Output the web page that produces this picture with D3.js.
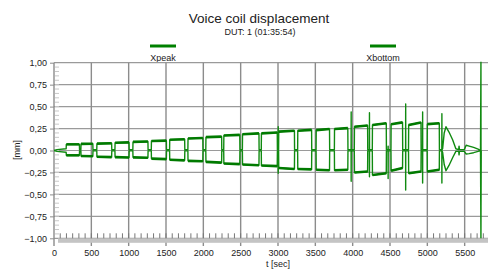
<!DOCTYPE html>
<html>
<head>
<meta charset="utf-8">
<script src="https://cdn.jsdelivr.net/npm/d3@7"></script>
<style>
  body { margin: 0; background: #fff; }
  text { font-family: "Liberation Sans", Arial, sans-serif; fill: #222; }
</style>
</head>
<body>
<svg id="chart" width="488" height="271"></svg>
<script>
// pulses (t in sec, displacement in mm)
var pulseStart = [165, 362, 575, 818, 1058, 1305, 1550, 1795, 2035, 2275, 2525, 2778, 3010, 3265, 3512, 3757, 4024, 4265, 4515, 4750, 5000];
var pulseEnd   = [340, 520, 772, 1005, 1258, 1505, 1750, 1993, 2245, 2488, 2745, 2990, 3220, 3450, 3690, 3935, 4200, 4450, 4668, 4915, 5160];
var peakStart  = [0.07, 0.075, 0.078, 0.088, 0.098, 0.108, 0.122, 0.137, 0.152, 0.170, 0.185, 0.195, 0.215, 0.225, 0.232, 0.245, 0.27, 0.29, 0.30, 0.29, 0.30];
var peakEnd    = [0.07, 0.077, 0.082, 0.092, 0.102, 0.112, 0.128, 0.142, 0.158, 0.178, 0.195, 0.205, 0.225, 0.235, 0.245, 0.255, 0.285, 0.31, 0.32, 0.32, 0.31];
var bottomStart = [-0.055, -0.062, -0.072, -0.075, -0.078, -0.092, -0.105, -0.118, -0.13, -0.148, -0.16, -0.17, -0.20, -0.21, -0.22, -0.225, -0.25, -0.28, -0.23, -0.26, -0.24];
var bottomEnd   = [-0.055, -0.066, -0.076, -0.08, -0.082, -0.098, -0.112, -0.122, -0.138, -0.155, -0.168, -0.178, -0.21, -0.215, -0.225, -0.22, -0.24, -0.26, -0.2, -0.24, -0.22];

var leadT      = [0, 40, 160];
var leadPeak   = [0, 0.01, 0.02];
var leadBottom = [0, -0.01, -0.02];

var spikeT      = [3003, 3980, 4225, 4475, 4710, 4937, 5195];
var spikePeak   = [0.27, 0.44, 0.43, 0.05, 0.53, 0.44, 0.42];
var spikeBottom = [-0.26, -0.35, -0.30, -0.32, -0.45, -0.37, -0.37];

var tailT      = [5205, 5226, 5250, 5290, 5340, 5382, 5420, 5425, 5430, 5495, 5520, 5560, 5620, 5680, 5712];
var tailPeak   = [0.02, 0.20, 0.27, 0.21, 0.12, 0.02, 0.01, 0.05, 0.01, 0.01, 0.06, 0.05, 0.035, 0.015, 0.0];
var tailBottom = [-0.02, -0.16, -0.23, -0.17, -0.08, -0.01, -0.01, -0.05, -0.01, -0.01, -0.04, -0.035, -0.025, -0.01, 0.0];

var finalT = [5718, 5719, 5722];
var finalPeak = [1.05, 0.0, 0.0];
var finalBottom = [-1.05, -0.65, 0.0];

var xTicks = d3.range(0, 6000, 500);
var yTicks = [1, 0.75, 0.5, 0.25, 0, -0.25, -0.5, -0.75, -1];

var gapPeak = 0.008, gapBottom = -0.004;

function buildSeries(lv, ps, pe, sv, tv, fv) {
  var pts = [];
  var g = ps === peakStart ? gapPeak : gapBottom;
  leadT.forEach(function(t, i) { pts.push([t, lv[i]]); });
  pulseStart.forEach(function(s, i) {
    pts.push([s - 2, i == 0 ? lv[lv.length - 1] : g]);
    pts.push([s, ps[i]]);
    pts.push([pulseEnd[i], pe[i]]);
    pts.push([pulseEnd[i] + 2, g]);
  });
  spikeT.forEach(function(t, i) {
    pts.push([t - 1, g]);
    pts.push([t, sv[i]]);
    pts.push([t + 1, g]);
  });
  pts.sort(function(a, b) { return a[0] - b[0]; });
  tailT.forEach(function(t, i) { pts.push([t, tv[i]]); });
  finalT.forEach(function(t, i) { pts.push([t, fv[i]]); });
  return pts;
}

var peakSeries = buildSeries(leadPeak, peakStart, peakEnd, spikePeak, tailPeak, finalPeak);
var bottomSeries = buildSeries(leadBottom, bottomStart, bottomEnd, spikeBottom, tailBottom, finalBottom);

var svg = d3.select("#chart");
var x = d3.scaleLinear().domain([0, 6000]).range([54, 502]);
var y = d3.scaleLinear().domain([-1, 1]).range([238.3, 62.7]);

// title
svg.append("text").attr("x", 259).attr("y", 23).attr("text-anchor", "middle")
  .style("font-size", "13.5px").text("Voice coil displacement");
svg.append("text").attr("x", 260).attr("y", 35).attr("text-anchor", "middle")
  .style("font-size", "9px").text("DUT: 1  (01:35:54)");

// legend
var legend = [{name: "Xpeak", x: 163}, {name: "Xbottom", x: 383}];
legend.forEach(function(d) {
  svg.append("line").attr("x1", d.x - 13).attr("x2", d.x + 13).attr("y1", 46).attr("y2", 46)
    .attr("stroke", "#008000").attr("stroke-width", 3);
  svg.append("text").attr("x", d.x).attr("y", 61).attr("text-anchor", "middle")
    .style("font-size", "9px").text(d.name);
});

// grid
svg.append("g").selectAll("line").data(yTicks).enter().append("line")
  .attr("x1", 54).attr("x2", 502).attr("y1", function(d) { return y(d); }).attr("y2", function(d) { return y(d); })
  .attr("stroke", "#9a9a9a").attr("stroke-width", 1.2);
svg.append("g").selectAll("line").data(xTicks.slice(1)).enter().append("line")
  .attr("x1", function(d) { return x(d); }).attr("x2", function(d) { return x(d); })
  .attr("y1", y(1)).attr("y2", 246)
  .attr("stroke", "#8c8c8c").attr("stroke-width", 1.4);

// bottom band and minor ticks
svg.append("rect").attr("x", 58).attr("y", y(-1)).attr("width", 502 - 58).attr("height", 4.5).attr("fill", "#c4c4c4");
var minorX = d3.range(500 / 6, 6000, 500 / 6);
svg.append("g").selectAll("line").data(minorX).enter().append("line")
  .attr("x1", function(d) { return x(d); }).attr("x2", function(d) { return x(d); })
  .attr("y1", y(-1) - 5).attr("y2", y(-1))
  .attr("stroke", "#777").attr("stroke-width", 1);

// left axis with minor ticks
var minorY = d3.range(-0.95, 1, 0.05);
svg.append("g").selectAll("line").data(minorY).enter().append("line")
  .attr("x1", 55).attr("x2", 59).attr("y1", function(d) { return y(d); }).attr("y2", function(d) { return y(d); })
  .attr("stroke", "#c8c8c8").attr("stroke-width", 1);
svg.append("line").attr("x1", 54).attr("x2", 54).attr("y1", y(1)).attr("y2", 246)
  .attr("stroke", "#8c8c8c").attr("stroke-width", 1.4);

var yAxis = d3.axisLeft(y).tickValues(yTicks).tickSize(4).tickFormat(function(d) { return d3.format(".2f")(d).replace(".", ","); });
var gy = svg.append("g").attr("transform", "translate(54,0)").call(yAxis);
gy.select(".domain").remove();
gy.selectAll("line").attr("stroke", "#8c8c8c");
gy.selectAll("text").style("font-size", "9px").attr("fill", "#222");

var xAxis = d3.axisBottom(x).tickValues(xTicks).tickSize(0).tickPadding(11).tickFormat(d3.format("d"));
var gx = svg.append("g").attr("transform", "translate(0," + y(-1) + ")").call(xAxis);
gx.select(".domain").remove();
gx.selectAll("text").style("font-size", "9px").attr("fill", "#222");

svg.append("text").attr("x", 278).attr("y", 267).attr("text-anchor", "middle")
  .style("font-size", "9px").text("t [sec]");
svg.append("text").attr("transform", "translate(20,150) rotate(-90)").attr("text-anchor", "middle")
  .style("font-size", "9px").text("[mm]");

// series
svg.append("clipPath").attr("id", "clip").append("rect")
  .attr("x", 54).attr("y", y(1) - 1).attr("width", 448).attr("height", y(-1) - y(1) + 1);
var line = d3.line().x(function(d) { return x(d[0]); }).y(function(d) { return y(d[1]); });
[peakSeries, bottomSeries].forEach(function(s) {
  svg.append("path").datum(s).attr("d", line).attr("clip-path", "url(#clip)")
    .attr("fill", "none").attr("stroke", "#108a10").attr("stroke-width", 1.4).attr("stroke-linejoin", "round");
});
// plateaus look thicker in the original (measurement noise band)
[[peakStart, peakEnd], [bottomStart, bottomEnd]].forEach(function(p) {
  svg.append("g").selectAll("line").data(pulseStart).enter().append("line")
    .attr("x1", function(d) { return x(d); })
    .attr("x2", function(d, i) { return x(pulseEnd[i]); })
    .attr("y1", function(d, i) { return y(p[0][i]); })
    .attr("y2", function(d, i) { return y(p[1][i]); })
    .attr("stroke", "#007a00").attr("stroke-width", 2.6);
});
</script>
</body>
</html>
